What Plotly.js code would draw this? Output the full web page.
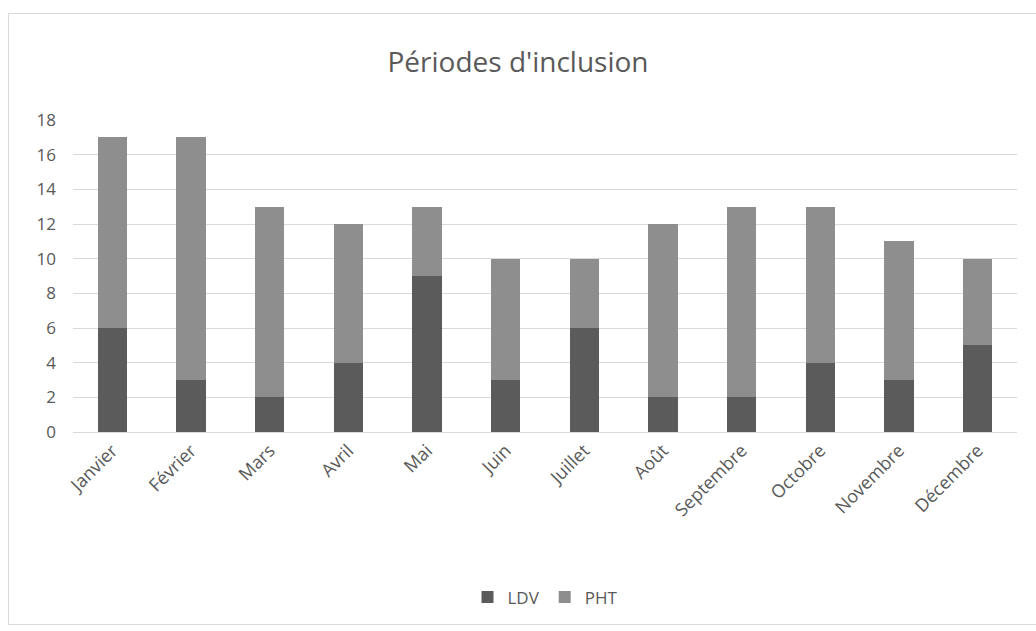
<!DOCTYPE html>
<html>
<head>
<meta charset="utf-8">
<script src="https://cdn.plot.ly/plotly-3.0.1.min.js"></script>
<style>
html,body{margin:0;padding:0;background:#fff;}
#wrap{position:relative;width:1036px;height:631px;}
#chart{width:1036px;height:631px;}
#frame{position:absolute;left:8px;top:13px;width:1030px;height:612px;border:1px solid #d9d9d9;pointer-events:none;box-sizing:border-box;}
</style>
</head>
<body>
<div id="wrap"><div id="chart"></div><div id="frame"></div></div>
<script>
const months = ["Janvier","Février","Mars","Avril","Mai","Juin","Juillet","Août","Septembre","Octobre","Novembre","Décembre"];
const ldv = [6,3,2,4,9,3,6,2,2,4,3,5];
const pht = [11,14,11,8,4,7,4,10,11,9,8,5];
const seriesNames = ["LDV","PHT"];
const yTicks = [0,2,4,6,8,10,12,14,16,18];

const txt = "#595959";
const data = [
  {type:"bar", name:seriesNames[0], x:months, y:ldv, marker:{color:"#5b5b5b"}},
  {type:"bar", name:seriesNames[1], x:months, y:pht, marker:{color:"#8e8e8e"}}
];
const layout = {
  width:1036, height:631,
  barmode:"stack", bargap:0.63,
  paper_bgcolor:"#fff", plot_bgcolor:"#fff",
  margin:{l:73, r:19, t:120, b:199},
  font:{family:"Open Sans, DejaVu Sans, sans-serif", color:txt, size:17},
  title:{text:"Périodes d'inclusion", x:0.5, xanchor:"center", y:0.902, yanchor:"middle", font:{size:28, color:txt}},
  xaxis:{tickangle:-45, tickfont:{size:18, color:txt}, showgrid:false, showline:true, linecolor:"#d9d9d9", ticks:"", automargin:false},
  yaxis:{range:[0,18], tickvals:yTicks, ticktext:yTicks.map(String), showgrid:true, gridcolor:"#d9d9d9", gridwidth:1, zeroline:false, showline:false, ticks:"", tickfont:{size:17, color:txt}, ticklabelstandoff:16, automargin:false},
  legend:{orientation:"h", x:0.5, xanchor:"center", y:-0.53, yanchor:"middle", font:{size:17, color:txt}, traceorder:"normal"},
  showlegend:true
};
Plotly.newPlot("chart", data, layout, {displayModeBar:false, staticPlot:true});
</script>
</body>
</html>
